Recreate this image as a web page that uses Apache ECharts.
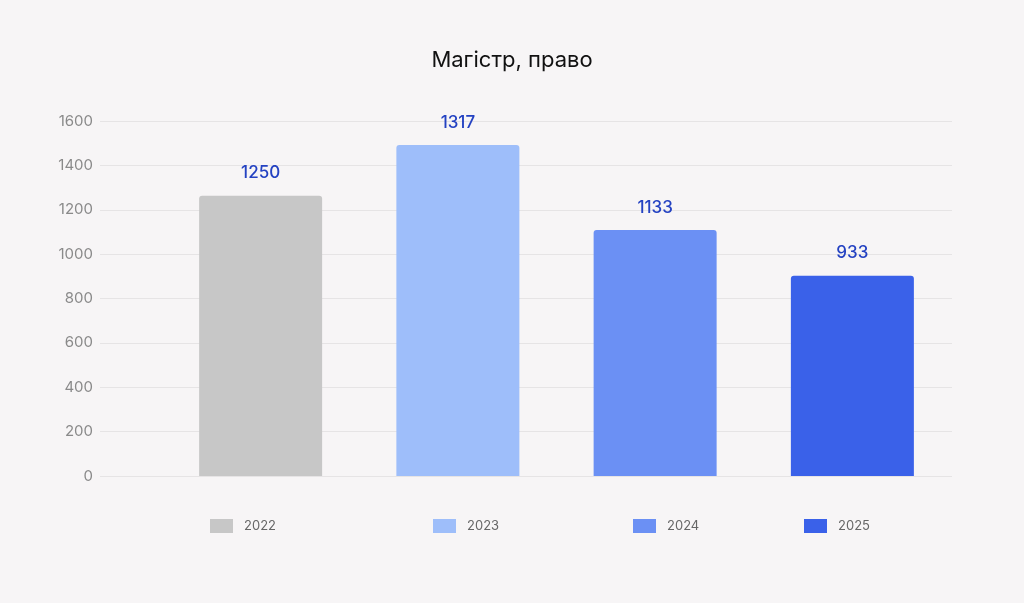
<!DOCTYPE html>
<html>
<head>
<meta charset="utf-8">
<script src="https://cdn.jsdelivr.net/npm/echarts@6/dist/echarts.min.js"></script>
<style>
  html, body { margin: 0; padding: 0; background: #f7f5f6; }
  #chart { width: 1024px; height: 603px; }
</style>
</head>
<body>
<div id="chart"></div>
<script>
// дані
const years = ['2022', '2023', '2024', '2025'];
const barValues = [1263, 1492, 1109, 903];
const labelTexts = ['1250', '1317', '1133', '933'];
const yTicks = [0, 200, 400, 600, 800, 1000, 1200, 1400, 1600];

const colors = ['#c7c7c7', '#9ebefa', '#6b90f4', '#3a61e9'];
const legendLeft = [210, 433, 633, 804];

let chart = echarts.init(document.getElementById('chart'));

const series = years.map((y, i) => ({
    name: y,
    type: 'bar',
    xAxisIndex: 1,
    yAxisIndex: 1,
    stack: 'all',
    barWidth: 123,
    itemStyle: { color: colors[i], borderRadius: [3, 3, 0, 0] },
    label: {
        show: true,
        position: 'top',
        distance: 14,
        color: '#2442c2',
        fontSize: 17,
        fontWeight: 500,
        fontFamily: 'Inter',
        formatter: p => labelTexts[p.dataIndex]
    },
    data: years.map((c, j) => (j === i ? barValues[i] : null))
}));

chart.setOption({
    backgroundColor: '#f7f5f6',
    animation: false,
    textStyle: { fontFamily: 'Inter' },
    title: {
        text: 'Магістр, право',
        left: 'center',
        top: 44,
        textStyle: { fontSize: 22, fontWeight: 'normal', color: '#111', fontFamily: 'Inter' }
    },
    legend: years.map((y, i) => ({
        data: [y],
        left: legendLeft[i],
        top: 519,
        padding: 0,
        icon: 'rect',
        itemWidth: 23,
        itemHeight: 14,
        selectedMode: false,
        textStyle: { fontSize: 13, color: '#666', fontFamily: 'Inter', padding: [0, 0, 0, 6] }
    })),
    grid: [
        { left: 100, right: 72, top: 121, bottom: 127 },
        { left: 162, right: 73, top: 121, bottom: 127 }
    ],
    xAxis: [
        { type: 'category', gridIndex: 0, data: years, show: false },
        { type: 'category', gridIndex: 1, data: years, show: false }
    ],
    yAxis: [
        {
            type: 'value', gridIndex: 0,
            min: yTicks[0], max: yTicks[yTicks.length - 1], interval: 200,
            axisLine: { show: false },
            axisTick: { show: false },
            axisLabel: { color: '#8a8a8a', fontSize: 15, margin: 7, fontFamily: 'Inter', formatter: v => String(v) },
            splitLine: { lineStyle: { color: '#e6e4e5', width: 1 } }
        },
        {
            type: 'value', gridIndex: 1,
            min: yTicks[0], max: yTicks[yTicks.length - 1], interval: 200,
            show: false,
            splitLine: { show: false }
        }
    ],
    series: series
});
</script>
</body>
</html>
